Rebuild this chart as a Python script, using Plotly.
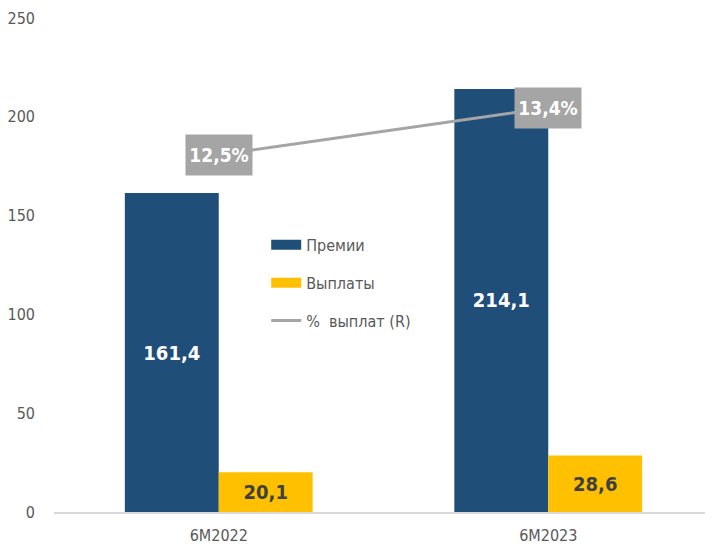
import plotly.graph_objects as go

categories = ["6M2022", "6M2023"]
premii = [161.4, 214.1]
vyplaty = [20.1, 28.6]
pct = [12.5, 13.4]
premii_labels = ["161,4", "214,1"]
vyplaty_labels = ["20,1", "28,6"]
pct_labels = ["12,5%", "13,4%"]

FONT = "DejaVu Sans Condensed, Liberation Sans Narrow, sans-serif"
BLUE = "#1F4E79"
GOLD = "#FFC000"
GRAY = "#A5A5A5"

fig = go.Figure()
fig.add_trace(go.Bar(
    x=categories, y=premii, name="Премии", showlegend=False,
    marker=dict(color=BLUE, line=dict(width=0)),
    text=premii_labels, textposition="inside", insidetextanchor="middle",
    textfont=dict(family=FONT, size=20, color="white", weight="bold"),
    textangle=0,
))
fig.add_trace(go.Bar(
    x=categories, y=vyplaty, name="Выплаты", showlegend=False,
    marker=dict(color=GOLD, line=dict(width=0)),
    text=vyplaty_labels, textposition="inside", insidetextanchor="middle",
    textfont=dict(family=FONT, size=20, color="#404040", weight="bold"),
    textangle=0,
))
fig.add_trace(go.Scatter(
    x=categories, y=pct, name="%  выплат (R)", yaxis="y2", showlegend=False,
    mode="lines", line=dict(color=GRAY, width=3),
))

# legend entries (wide swatches like the original)
for nm, col, w in [("Премии", BLUE, 12), ("Выплаты", GOLD, 12), ("%  выплат (R)", GRAY, 3)]:
    fig.add_trace(go.Scatter(
        x=[None], y=[None], name=nm, mode="lines", legendgroup=nm,
        line=dict(color=col, width=w), showlegend=True,
    ))

for c, v, t in zip(categories, pct, pct_labels):
    fig.add_annotation(
        x=c, y=v, xref="x", yref="y2", text=t, showarrow=False,
        font=dict(family=FONT, size=19, color="white", weight="bold"),
        bgcolor=GRAY, width=66, height=40, borderpad=0,
    )

fig.update_layout(
    width=705, height=543,
    margin=dict(l=44, r=0, t=10, b=39),
    paper_bgcolor="white", plot_bgcolor="white",
    barmode="group", bargap=0.43, bargroupgap=0,
    font=dict(family=FONT, size=16, color="#595959"),
    showlegend=True,
    legend=dict(
        x=0.322, y=0.575, xanchor="left", yanchor="top",
        bgcolor="rgba(0,0,0,0)", font=dict(size=16, color="#595959"),
        traceorder="grouped", tracegroupgap=14,
    ),
    xaxis=dict(
        showgrid=False, showline=True, linecolor="#D9D9D9", linewidth=2,
        ticks="", tickfont=dict(size=16, color="#595959"), ticklabelstandoff=8,
    ),
    yaxis=dict(
        range=[0, 250], dtick=50, showgrid=False, zeroline=False,
        showline=False, ticks="", tickfont=dict(size=16, color="#595959"),
        ticklabelstandoff=18,
    ),
    yaxis2=dict(
        overlaying="y", side="right", range=[5.66, 15.12], visible=False,
        showgrid=False,
    ),
)

fig.write_html("out.html")
